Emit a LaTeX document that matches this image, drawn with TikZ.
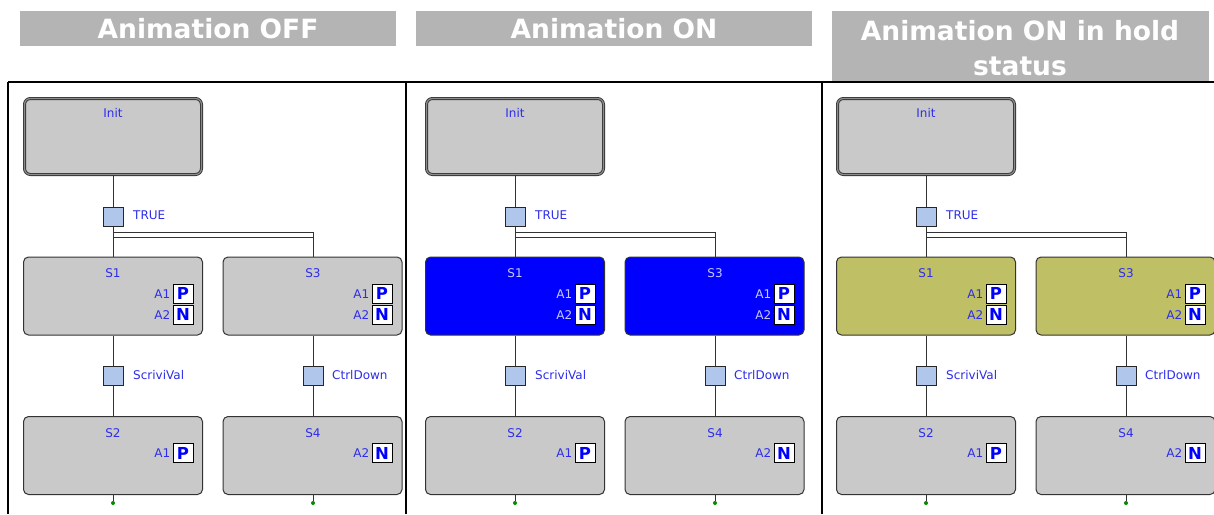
\documentclass[tikz,border=0pt]{standalone}
\usepackage{fontspec}
\setmainfont{DejaVu Sans}
\definecolor{hdr}{RGB}{180,180,180}
\definecolor{stepgray}{RGB}{201,201,201}
\definecolor{stepblue}{RGB}{0,0,255}
\definecolor{stepolive}{RGB}{191,191,102}
\definecolor{trfill}{RGB}{176,198,234}
\definecolor{txtblue}{RGB}{45,45,235}
\definecolor{txtlight}{RGB}{200,200,255}
\definecolor{lnk}{RGB}{50,50,50}
\definecolor{dotgreen}{RGB}{0,140,0}
\tikzset{
  hdrbox/.style={fill=hdr, draw=none},
  hdrtext/.style={text=white, font=\bfseries\fontsize{26.5}{35}\selectfont, align=center},
  initbox/.style={draw=black!80, double=black!45, double distance=1.2pt, line width=0.9pt,
     rounded corners=6pt, fill=stepgray, minimum width=177pt, minimum height=76pt, inner sep=0pt},
  stepbox/.style={draw=black!80, line width=1pt, rounded corners=5pt, fill=#1,
     minimum width=179pt, minimum height=78pt, inner sep=0pt},
  trans/.style={draw=black!85, line width=1pt, fill=trfill, minimum width=20pt,
     minimum height=19pt, inner sep=0pt},
  qual/.style={draw=black, fill=white, line width=1pt, minimum width=20pt,
     minimum height=19pt, inner sep=0pt, text=blue, font=\bfseries\fontsize{16.5}{16.5}\selectfont},
  lbl/.style={text=#1, font=\fontsize{12}{12}\selectfont, inner sep=0pt},
  link/.style={draw=lnk, line width=0.9pt},
  frame/.style={draw=black, line width=1.8pt},
  enddot/.style={circle, fill=dotgreen, inner sep=0pt, minimum size=4pt}
}
\newcommand\drawpanel[4]{%
\begin{scope}[xshift=#1pt]
  \node[initbox] (#2init) at (113,136.5) {};
  \node[lbl=txtblue] (#2initl) at (113,113) {Init};
  \node[trans] (#2t1) at (113,216.5) {};
  \node[lbl=txtblue, anchor=west] (#2t1l) at (133,215.5) {TRUE};
  \node[stepbox=#3] (#2s1) at (113,296) {};
  \node[stepbox=#3] (#2s3) at (312.5,296) {};
  \node[lbl=#4] (#2s1l) at (113,273) {S1};
  \node[lbl=#4] (#2s3l) at (313,273) {S3};
  \node[qual] (#2s1p) at (183,293.5) {P};
  \node[qual] (#2s1n) at (183,314.5) {N};
  \node[qual] (#2s3p) at (382,293.5) {P};
  \node[qual] (#2s3n) at (382,314.5) {N};
  \node[lbl=#4, anchor=east] (#2s1a1) at (170.5,294) {A1};
  \node[lbl=#4, anchor=east] (#2s1a2) at (170.5,315) {A2};
  \node[lbl=#4, anchor=east] (#2s3a1) at (369.5,294) {A1};
  \node[lbl=#4, anchor=east] (#2s3a2) at (369.5,315) {A2};
  \node[trans] (#2t2) at (113,375.5) {};
  \node[trans] (#2t3) at (313,375.5) {};
  \node[lbl=txtblue, anchor=west] (#2t2l) at (133,375) {ScriviVal};
  \node[lbl=txtblue, anchor=west] (#2t3l) at (332,375) {CtrlDown};
  \node[stepbox=stepgray] (#2s2) at (113,455.5) {};
  \node[stepbox=stepgray] (#2s4) at (312.5,455.5) {};
  \node[lbl=txtblue] (#2s2l) at (113,433) {S2};
  \node[lbl=txtblue] (#2s4l) at (313,433) {S4};
  \node[qual] (#2s2p) at (183,453) {P};
  \node[qual] (#2s4n) at (382,453) {N};
  \node[lbl=txtblue, anchor=east] (#2s2a1) at (170.5,453.5) {A1};
  \node[lbl=txtblue, anchor=east] (#2s4a2) at (369.5,453.5) {A2};
  \node[enddot] (#2d2) at (113,503) {};
  \node[enddot] (#2d4) at (313,503) {};
  \coordinate (#2jA) at (113,232);
  \coordinate (#2jB) at (313,232);
  \coordinate (#2jC) at (113,237);
  \coordinate (#2jD) at (313,237);
  \draw[link] (#2init.south -| #2t1) -- (#2t1.north);
  \draw[link] (#2t1.south) -- (#2s1.north -| #2t1);
  \draw[link] (#2jA) -- (#2jB) -- (#2s3.north -| #2jB);
  \draw[link] (#2jC) -- (#2jD);
  \draw[link] (#2s1.south -| #2t2) -- (#2t2.north);
  \draw[link] (#2t2.south) -- (#2s2.north -| #2t2);
  \draw[link] (#2s3.south -| #2t3) -- (#2t3.north);
  \draw[link] (#2t3.south) -- (#2s4.north -| #2t3);
  \draw[link] (#2s2.south -| #2d2) -- (#2d2);
  \draw[link] (#2s4.south -| #2d4) -- (#2d4);
\end{scope}}
\begin{document}
\begin{tikzpicture}[x=1pt,y=-1pt]
  \useasboundingbox (0,0) rectangle (1214,514);
  \fill[white] (0,0) rectangle (1214,514);
  % headers
  \fill[hdrbox] (20,11) rectangle (396,46);
  \fill[hdrbox] (416,11) rectangle (812,46);
  \fill[hdrbox] (832,11) rectangle (1209,81);
  \node[hdrtext] (h1) at (208,29) {Animation OFF};
  \node[hdrtext] (h2) at (614,29) {Animation ON};
  \node[hdrtext] (h3) at (1020,48) {Animation ON in hold\\status};
  % frame
  \coordinate (fA) at (8,82);
  \coordinate (fB) at (1214,82);
  \coordinate (fC) at (8,514);
  \coordinate (fD) at (406,82);
  \coordinate (fE) at (406,514);
  \coordinate (fF) at (822,82);
  \coordinate (fG) at (822,514);
  \draw[frame] (fA) -- (fB);
  \draw[frame] (fA) -- (fC);
  \draw[frame] (fD) -- (fE);
  \draw[frame] (fF) -- (fG);
  % panels
  \drawpanel{0}{a}{stepgray}{txtblue}
  \drawpanel{402}{b}{stepblue}{txtlight}
  \drawpanel{813}{c}{stepolive}{txtblue}
\end{tikzpicture}
\end{document}
